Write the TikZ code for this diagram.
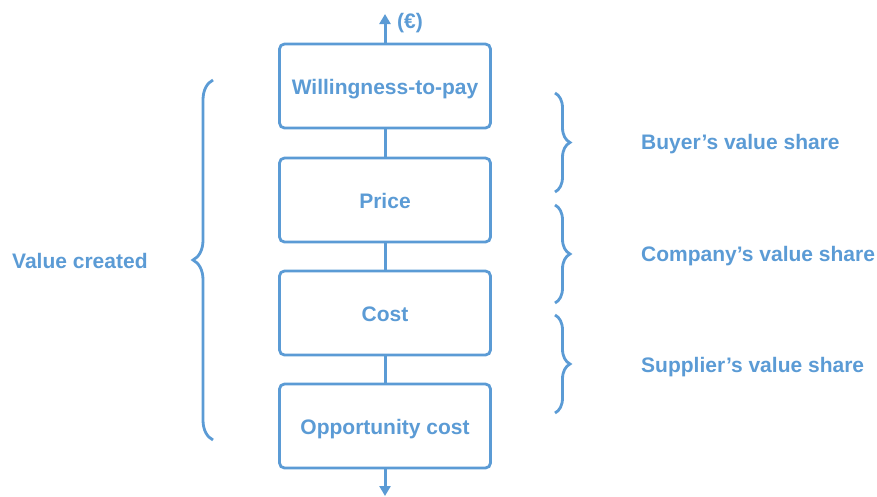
\documentclass[tikz,border=0pt]{standalone}
\usepackage{fontspec}
\setmainfont{Liberation Sans}
\usepackage{tikz}
\usetikzlibrary{arrows.meta}
\usetikzlibrary{positioning, decorations.pathreplacing}
\definecolor{valblue}{RGB}{91,155,213}
\tikzset{
valbox/.style = { rectangle, draw = valblue, fill = white, line width = 2.8pt, minimum width = 211pt, minimum height = 84pt, rounded corners = 5pt, text height = 17pt, text depth = 0pt, font = \bfseries\fontsize{21}{24}\selectfont, text = valblue },
vallink/.style = { draw = valblue, line width = 3pt },
valarrow/.style = { vallink, -{Triangle[width = 11pt, length = 10pt]} },
valbrace/.style = { draw = valblue, line width = 2.8pt, decorate, decoration = { brace, amplitude = #1 } },
vallabel/.style = { anchor = west, inner sep = 0pt, font = \bfseries\fontsize{21}{24}\selectfont, text = valblue },
}

\begin{document}
\begin{tikzpicture}[x = 1pt, y = -1pt]
    \useasboundingbox (0, 0) rectangle (877, 496);
    % value chain
    \node[valbox] (wtp) at (385, 86) {Willingness-to-pay};
    \node[valbox] (price) at (385, 200) {Price};
    \node[valbox] (cost) at (385, 313) {Cost};
    \node[valbox] (opp) at (385, 426) {Opportunity cost};
    \coordinate (top) at (385, 14);
    \coordinate (bottom) at (385, 496);
    \draw[vallink] (wtp) -- (price);
    \draw[vallink] (price) -- (cost);
    \draw[vallink] (cost) -- (opp);
    \draw[valarrow] (wtp.north) -- (top);
    \draw[valarrow] (opp.south) -- (bottom);
    \node[vallabel] (euro) at (397, 23) {(€)};
    % braces
    \coordinate (vc top) at (213, 80);
    \coordinate (vc bot) at (213, 440);
    \draw[valbrace = 20pt] (vc bot) -- (vc top);
    \coordinate (b top) at (555, 93);
    \coordinate (b bot) at (555, 192);
    \coordinate (c top) at (555, 205);
    \coordinate (c bot) at (555, 303);
    \coordinate (s top) at (555, 315);
    \coordinate (s bot) at (555, 413);
    \draw[valbrace = 15pt] (b top) -- (b bot);
    \draw[valbrace = 15pt] (c top) -- (c bot);
    \draw[valbrace = 15pt] (s top) -- (s bot);
    \node[vallabel] (vc) at (12, 261) {Value created};
    \node[vallabel] (buyer) at (641, 144) {Buyer’s value share};
    \node[vallabel] (company) at (641, 256) {Company’s value share};
    \node[vallabel] (supplier) at (641, 367) {Supplier’s value share};
\end{tikzpicture}
\end{document}
